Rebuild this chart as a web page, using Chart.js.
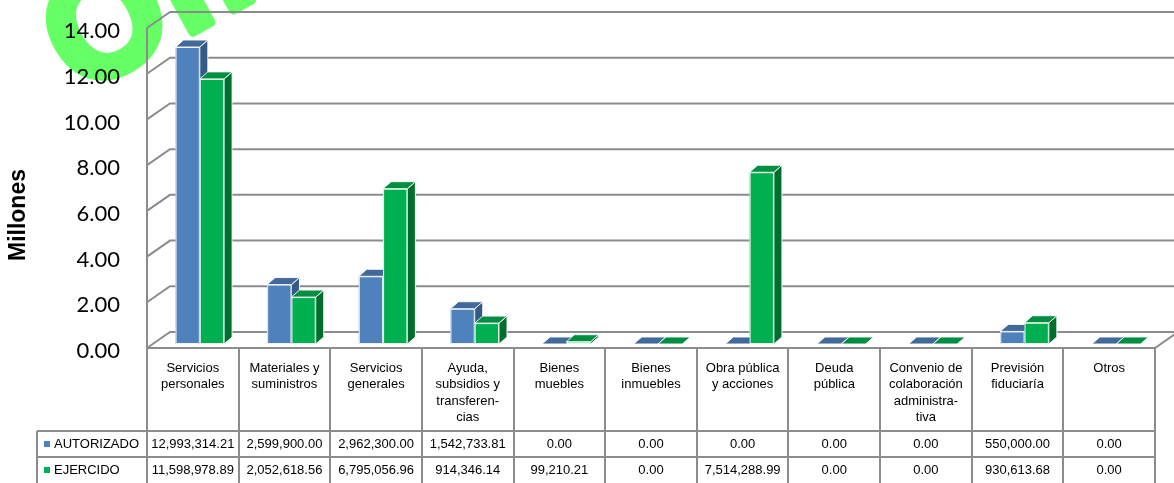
<!DOCTYPE html>
<html>
<head>
<meta charset="utf-8">
<script src="https://cdn.jsdelivr.net/npm/chart.js@4.4.0/dist/chart.umd.min.js"></script>
<style>
  html, body { margin: 0; padding: 0; background: #fff; }
  #wrap { width: 1174px; height: 483px; }
</style>
</head>
<body>
<div id="wrap"><canvas id="chart" width="1174" height="483"></canvas></div>
<script>
// Categorias (como aparecen en el encabezado de la tabla)
const categories = [
    ['Servicios', 'personales'],
    ['Materiales y', 'suministros'],
    ['Servicios', 'generales'],
    ['Ayuda,', 'subsidios y', 'transferen-', 'cias'],
    ['Bienes', 'muebles'],
    ['Bienes', 'inmuebles'],
    ['Obra pública', 'y acciones'],
    ['Deuda', 'pública'],
    ['Convenio de', 'colaboración', 'administra-', 'tiva'],
    ['Previsión', 'fiduciaría'],
    ['Otros']
];

const seriesNames = ['AUTORIZADO', 'EJERCIDO'];
const autorizado = [12993314.21, 2599900.00, 2962300.00, 1542733.81, 0, 0, 0, 0, 0, 550000.00, 0];
const ejercido = [11598978.89, 2052618.56, 6795056.96, 914346.14, 99210.21, 0, 7514288.99, 0, 0, 930613.68, 0];
const yTicks = [0, 2, 4, 6, 8, 10, 12, 14];

// colores: frente, lado, tapa
const palette = [
    { front: '#4F81BD', side: '#365A86', top: '#41699C' },
    { front: '#00B050', side: '#006F2E', top: '#008E40' }
];

const WALL_DX = 23, WALL_DY = -16;   // profundidad de paredes
const BAR_OX = 7, BAR_OY = -4;       // barras en el centro de la profundidad
const BAR_DX = 8, BAR_DY = -7;       // profundidad de cada barra
const LINE = '#8C8C8C';

const fmt = v => v.toLocaleString('en-US', { minimumFractionDigits: 2, maximumFractionDigits: 2 });

// marca de agua verde
const watermark = {
    id: 'watermark',
    beforeDraw(chart) {
        const ctx = chart.ctx;
        ctx.save();
        ctx.translate(78, 95);
        ctx.rotate(-0.5);
        ctx.fillStyle = '#66FF66';
        ctx.strokeStyle = '#66FF66';
        ctx.lineWidth = 9;
        ctx.lineJoin = 'round';
        ctx.font = 'bold 150px "Liberation Sans"';
        ctx.textBaseline = 'alphabetic';
        ctx.fillText('Oficial', 0, 0);
        ctx.strokeText('Oficial', 0, 0);
        ctx.restore();
    }
};

// paredes y piso en 3D
const walls = {
    id: 'walls',
    beforeDatasetsDraw(chart) {
        const ctx = chart.ctx;
        const y = chart.scales.y;
        const area = chart.chartArea;
        ctx.save();
        ctx.strokeStyle = LINE;
        ctx.lineWidth = 2;
        ctx.beginPath();
        yTicks.forEach(v => {
            const py = y.getPixelForValue(v);
            ctx.moveTo(area.left, py);
            ctx.lineTo(area.left + WALL_DX, py + WALL_DY);
            ctx.lineTo(chart.width, py + WALL_DY);
        });
        ctx.moveTo(area.left, y.getPixelForValue(14));
        ctx.lineTo(area.left, y.getPixelForValue(0));
        ctx.lineTo(area.right, y.getPixelForValue(0));
        ctx.lineTo(area.right + WALL_DX, y.getPixelForValue(0) + WALL_DY);
        ctx.stroke();
        ctx.restore();
    }
};

function drawBox(ctx, x0, x1, yTop, yBase, c) {
    ctx.lineWidth = 1;
    ctx.strokeStyle = 'rgba(255,255,255,0.9)';
    // lado
    ctx.beginPath();
    ctx.moveTo(x1, yTop);
    ctx.lineTo(x1 + BAR_DX, yTop + BAR_DY);
    ctx.lineTo(x1 + BAR_DX, yBase + BAR_DY);
    ctx.lineTo(x1, yBase);
    ctx.closePath();
    ctx.fillStyle = c.side;
    ctx.fill();
    ctx.stroke();
    // frente
    if (yBase - yTop > 0.5) {
        ctx.fillStyle = c.front;
        ctx.fillRect(x0, yTop, x1 - x0, yBase - yTop);
        ctx.strokeRect(x0 + 0.5, yTop + 0.5, x1 - x0 - 1, yBase - yTop - 1);
    }
    // tapa
    ctx.beginPath();
    ctx.moveTo(x0, yTop);
    ctx.lineTo(x0 + BAR_DX, yTop + BAR_DY);
    ctx.lineTo(x1 + BAR_DX, yTop + BAR_DY);
    ctx.lineTo(x1, yTop);
    ctx.closePath();
    ctx.fillStyle = c.top;
    ctx.fill();
    ctx.stroke();
}

const bars3d = {
    id: 'bars3d',
    beforeDatasetDraw() {
        return false;
    },
    afterDatasetsDraw(chart) {
        const ctx = chart.ctx;
        ctx.save();
        chart.data.datasets.forEach((ds, i) => {
            const meta = chart.getDatasetMeta(i);
            meta.data.forEach(bar => {
                const p = bar.getProps(['x', 'y', 'base', 'width'], true);
                const x0 = p.x - p.width / 2 + BAR_OX;
                const x1 = p.x + p.width / 2 + BAR_OX;
                drawBox(ctx, x0, x1, p.y + BAR_OY, p.base + BAR_OY, palette[i]);
            });
        });
        ctx.restore();
    }
};

// tabla de datos bajo la grafica y titulo del eje
const dataTable = {
    id: 'dataTable',
    afterDraw(chart) {
        const ctx = chart.ctx;
        const x = chart.scales.x;
        const area = chart.chartArea;
        const step = (area.right - area.left) / categories.length;
        const top = area.bottom;
        const row1 = 431, row2 = 457, bottom = chart.height;
        ctx.save();

        // titulo del eje
        ctx.translate(19, 215);
        ctx.rotate(-Math.PI / 2);
        ctx.font = 'bold 23px "Liberation Sans"';
        ctx.fillStyle = '#000';
        ctx.textAlign = 'center';
        ctx.textBaseline = 'middle';
        ctx.fillText('Millones', 0, 0);
        ctx.setTransform(1, 0, 0, 1, 0, 0);

        ctx.strokeStyle = LINE;
        ctx.lineWidth = 2;
        ctx.beginPath();
        for (let i = 0; i <= categories.length; i++) {
            const px = Math.round(area.left + i * step);
            ctx.moveTo(px, top);
            ctx.lineTo(px, bottom);
        }
        ctx.moveTo(37, row1); ctx.lineTo(area.right, row1);
        ctx.moveTo(37, row2); ctx.lineTo(area.right, row2);
        ctx.moveTo(37, row1); ctx.lineTo(37, bottom);
        ctx.stroke();

        ctx.font = '13px "Liberation Sans"';
        ctx.fillStyle = '#000';
        ctx.textAlign = 'center';
        ctx.textBaseline = 'middle';
        categories.forEach((lines, i) => {
            const cx = x.getPixelForValue(i);
            lines.forEach((t, k) => ctx.fillText(t, cx, 368 + k * 16.6));
            ctx.fillText(fmt(autorizado[i]), cx, 444);
            ctx.fillText(fmt(ejercido[i]), cx, 470);
        });

        // leyenda
        ctx.textAlign = 'left';
        [444, 470].forEach((ty, i) => {
            ctx.fillStyle = palette[i].front;
            ctx.fillRect(44, ty - 3, 6, 6);
            ctx.fillStyle = '#000';
            ctx.fillText(seriesNames[i], 54, ty);
        });
        ctx.restore();
    }
};

new Chart(document.getElementById('chart'), {
    type: 'bar',
    data: {
        labels: categories,
        datasets: [
            { label: seriesNames[0], data: autorizado.map(v => v / 1e6), backgroundColor: palette[0].front },
            { label: seriesNames[1], data: ejercido.map(v => v / 1e6), backgroundColor: palette[1].front }
        ]
    },
    options: {
        responsive: false,
        animation: false,
        events: [],
        categoryPercentage: 0.53,
        barPercentage: 1,
        layout: {
            padding: { top: 28, bottom: 135, right: 19, left: 0 }
        },
        plugins: {
            legend: { display: false },
            tooltip: { enabled: false }
        },
        scales: {
            x: {
                display: false
            },
            y: {
                min: 0,
                max: 14,
                afterFit(scale) {
                    scale.width = 147;
                    scale.paddingTop = 0;
                    scale.paddingBottom = 0;
                },
                afterBuildTicks(scale) {
                    scale.ticks = yTicks.map(v => ({ value: v }));
                },
                grid: { display: false, drawTicks: false },
                border: { display: false },
                ticks: {
                    padding: 27,
                    labelOffset: 3,
                    color: '#000',
                    font: { family: 'Lato', size: 22 },
                    callback: v => v.toFixed(2)
                }
            }
        }
    },
    plugins: [watermark, walls, bars3d, dataTable]
});
</script>
</body>
</html>
